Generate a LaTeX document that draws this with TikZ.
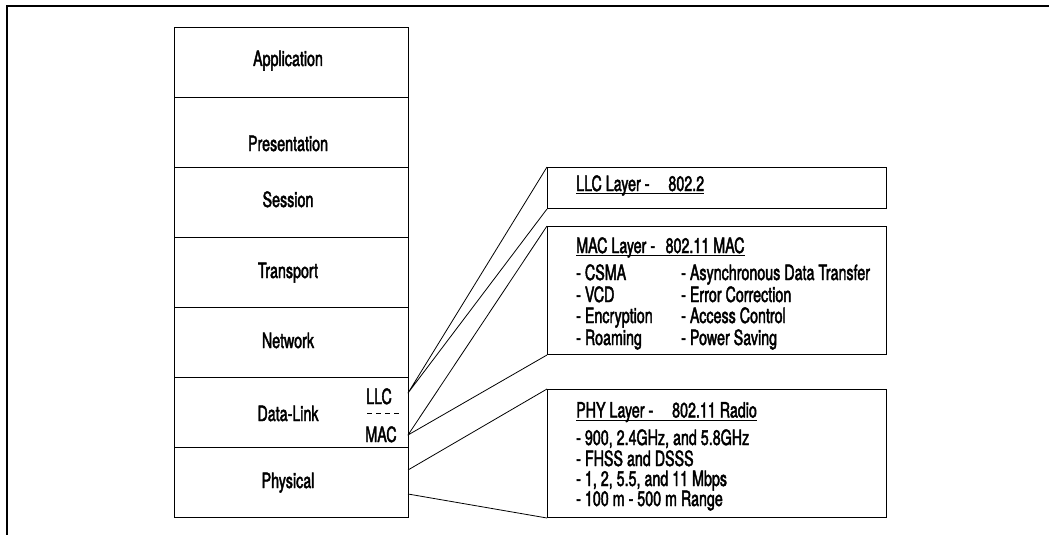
\documentclass[tikz,border=0pt]{standalone}
\usepackage{fontspec}
\setmainfont{TeX Gyre Heros}[FakeStretch=0.68, FakeBold=2]
\newcommand\myfs{\fontsize{21}{23}\selectfont}
\begin{document}
\begin{tikzpicture}[x=1pt,y=-1pt,
  row/.style={draw, line width=1pt, minimum width=234pt, minimum height=70pt, anchor=north west, inner sep=0pt},
  box/.style={draw, line width=1pt, minimum width=339pt, anchor=north west, inner sep=0pt},
  lbl/.style={inner sep=0pt, anchor=base, font=\myfs},
  txt/.style={inner sep=0pt, anchor=base west, font=\myfs},
  conn/.style={line width=0.8pt, line join=round},
  uline/.style={line width=0.8pt}]
\useasboundingbox (0,0) rectangle (1049,535);
\draw[line width=1.6pt] (7,535) -- (7,6) -- (1049,6);
% OSI stack
\node[row] (app) at (174,27) {};
\node[row] (pres) at (174,97) {};
\node[row] (sess) at (174,167) {};
\node[row] (trans) at (174,237) {};
\node[row] (net) at (174,307) {};
\node[row] (dl) at (174,377) {};
\node[row] (phys) at (174,447) {};
\node[lbl] (tapp) at (288,66) {Application};
\node[lbl] (tpres) at (288,151) {Presentation};
\node[lbl] (tsess) at (288,207) {Session};
\node[lbl] (ttrans) at (288,278) {Transport};
\node[lbl] (tnet) at (288,348) {Network};
\node[lbl] (tdl) at (288,421) {Data-Link};
\node[lbl] (tphys) at (288,488) {Physical};
\node[lbl] (tllc) at (379,404) {LLC};
\node[lbl] (tmac) at (381,442) {MAC};
\draw[line width=1pt, dash pattern=on 5pt off 4pt] (367,413) -- (399,413);
% right boxes
\node[box, minimum height=41pt] (llcbox) at (547,167) {};
\node[box, minimum height=128pt] (macbox) at (547,226) {};
\node[box, minimum height=128pt] (phybox) at (547,389) {};
% connectors
\coordinate (llcpt) at (408,393);
\coordinate (macpt) at (408,435);
\coordinate (phyA) at (408,470);
\coordinate (phyB) at (408,494);
\draw[conn] (llcbox.north west) -- (llcpt) -- (llcbox.south west);
\draw[conn] (macbox.north west) -- (macpt) -- (macbox.south west);
\draw[conn] (phyA) -- (phybox.north west);
\draw[conn] (phyB) -- (phybox.south west);
% LLC text
\node[txt] (llct) at (576,191) {LLC Layer -\hspace{0.9em}802.2};
\draw[uline] ([yshift=-2.5pt]llct.base west) -- ([yshift=-2.5pt]llct.base east);
% MAC text
\node[txt] (mact) at (576,253) {MAC Layer -\hspace{0.5em}802.11 MAC};
\draw[uline] ([yshift=-2.5pt]mact.base west) -- ([yshift=-2.5pt]mact.base east);
\node[txt] (m1) at (576,280) {- CSMA};
\node[txt] (m2) at (576,302) {- VCD};
\node[txt] (m3) at (576,323) {- Encryption};
\node[txt] (m4) at (576,345) {- Roaming};
\node[txt] (m5) at (681,280) {- Asynchronous Data Transfer};
\node[txt] (m6) at (681,302) {- Error Correction};
\node[txt] (m7) at (681,323) {- Access Control};
\node[txt] (m8) at (681,345) {- Power Saving};
% PHY text
\node[txt] (phyt) at (576,417.5) {PHY Layer -\hspace{0.9em}802.11 Radio};
\draw[uline] ([yshift=-2.5pt]phyt.base west) -- ([yshift=-2.5pt]phyt.base east);
\node[txt] (p1) at (576,445) {- 900, 2.4GHz, and 5.8GHz};
\node[txt] (p2) at (576,466) {- FHSS and DSSS};
\node[txt] (p3) at (576,486) {- 1, 2, 5.5, and 11 Mbps};
\node[txt] (p4) at (576,506) {- 100 m - 500 m Range};
\end{tikzpicture}
\end{document}
